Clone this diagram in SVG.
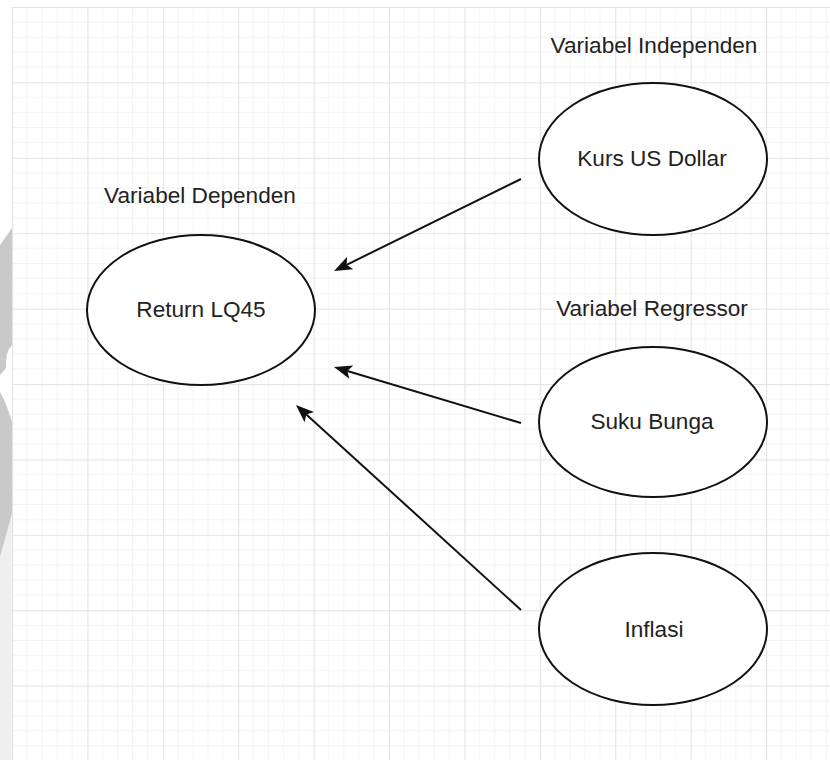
<svg xmlns="http://www.w3.org/2000/svg" width="830" height="760" viewBox="0 0 830 760">
  <style>
    .node ellipse { fill: #ffffff; stroke: #111111; stroke-width: 2; }
    .label { font-family: "Liberation Sans", Arial, sans-serif; font-size: 22.6px; fill: #222222; text-anchor: middle; }
    .edge { fill: none; stroke: #111111; stroke-width: 2; }
  </style>
  <defs>
    <!-- canvas grid: major cell 75.4px, minor cell 15.08px -->
    <pattern id="grid" x="12" y="7" width="75.4" height="75.4" patternUnits="userSpaceOnUse">
      <g stroke="#f3f3f3" stroke-width="1">
        <line x1="15.08" y1="0" x2="15.08" y2="75.4"/>
        <line x1="30.16" y1="0" x2="30.16" y2="75.4"/>
        <line x1="45.24" y1="0" x2="45.24" y2="75.4"/>
        <line x1="60.32" y1="0" x2="60.32" y2="75.4"/>
        <line x1="0" y1="15.08" x2="75.4" y2="15.08"/>
        <line x1="0" y1="30.16" x2="75.4" y2="30.16"/>
        <line x1="0" y1="45.24" x2="75.4" y2="45.24"/>
        <line x1="0" y1="60.32" x2="75.4" y2="60.32"/>
      </g>
      <g stroke="#e3e3e3" stroke-width="1.2">
        <line x1="0.5" y1="0" x2="0.5" y2="75.4"/>
        <line x1="0" y1="0.5" x2="75.4" y2="0.5"/>
      </g>
    </pattern>
    <!-- classic notched arrowhead; refX sits on the notch -->
    <marker id="arrow" markerUnits="userSpaceOnUse" markerWidth="20" markerHeight="16" refX="4" refY="7" orient="auto" overflow="visible">
      <path d="M18,7 L0,0 L4,7 L0,14 Z" fill="#111111"/>
    </marker>
  </defs>

  <!-- background and grid -->
  <rect x="0" y="0" width="830" height="760" fill="#ffffff"/>
  <rect x="12" y="7" width="818" height="753" fill="url(#grid)"/>

  <!-- left margin strip -->
  <g id="margin">
    <rect x="0" y="500" width="12" height="260" fill="#efefef"/>
    <polygon points="0,245 12,228 12,513 0,557" fill="#c9c9c9"/>
    <path d="M12,345 Q5,352 6,368 L0,375 L0,392 Q6,402 12,422 Z" fill="#ffffff"/>
  </g>

  <!-- connectors -->
  <g id="connectors">
    <line class="edge" x1="521" y1="179" x2="346.6" y2="264.8" marker-end="url(#arrow)"/>
    <line class="edge" x1="521" y1="423" x2="347.4" y2="371.0" marker-end="url(#arrow)"/>
    <line class="edge" x1="521" y1="610" x2="306.3" y2="414.4" marker-end="url(#arrow)"/>
  </g>

  <!-- section captions -->
  <g id="caption-dependen">
    <text class="label" x="200" y="203">Variabel Dependen</text>
  </g>
  <g id="caption-independen">
    <text class="label" x="654" y="53">Variabel Independen</text>
  </g>
  <g id="caption-regressor">
    <text class="label" x="652" y="316">Variabel Regressor</text>
  </g>

  <!-- nodes -->
  <g id="return-lq45" class="node">
    <ellipse cx="201" cy="310" rx="114" ry="75"/>
    <text class="label" x="201" y="317">Return LQ45</text>
  </g>
  <g id="kurs-us-dollar" class="node">
    <ellipse cx="653" cy="159" rx="114" ry="76"/>
    <text class="label" x="652" y="166">Kurs US Dollar</text>
  </g>
  <g id="suku-bunga" class="node">
    <ellipse cx="653" cy="422" rx="114" ry="75"/>
    <text class="label" x="652" y="429">Suku Bunga</text>
  </g>
  <g id="inflasi" class="node">
    <ellipse cx="653" cy="629" rx="114" ry="76"/>
    <text class="label" x="654" y="637">Inflasi</text>
  </g>
</svg>
